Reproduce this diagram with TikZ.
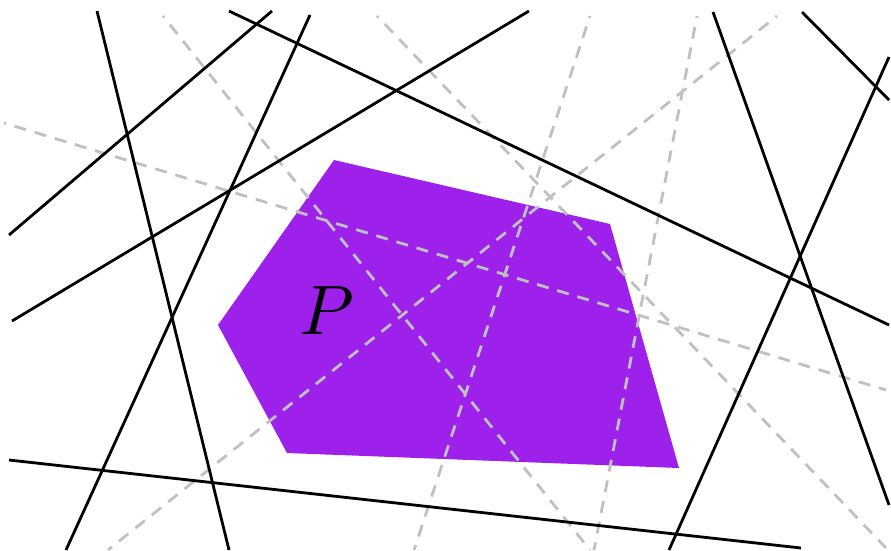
\documentclass[tikz,border=0pt]{standalone}
\usepackage{graphicx}
\begin{document}
\begin{tikzpicture}[x=1pt,y=-1pt,
  solidline/.style={black,line width=2.8pt},
  guide/.style={color={rgb,255:red,192;green,192;blue,192},line width=2.8pt,dash pattern=on 12pt off 9pt,dash phase=10pt},
  region/.style={fill={rgb,255:red,157;green,32;blue,235}}]
\useasboundingbox (0,0) rectangle (891,550);
% polygon
\fill[region] (334,160) -- (610,224) -- (679,468) -- (287,453) -- (218,325) -- cycle;
\node (P) at (327,311) {\scalebox{7}{$P$}};
% dashed guides
\draw[guide] (163,16) -- (590,550);
\draw[guide] (4,123) -- (886,390);
\draw[guide] (777,16) -- (108,550);
\draw[guide] (697,16) -- (594,550);
\draw[guide] (590,16) -- (414,550);
\draw[guide] (377,16) -- (886,548);
% solid lines
\draw[solidline] (97,11) -- (229,550);
\draw[solidline] (272,11) -- (9,235);
\draw[solidline] (310,15) -- (66,550);
\draw[solidline] (229,11) -- (889,325);
\draw[solidline] (529,11) -- (12,321);
\draw[solidline] (713,12) -- (889,505);
\draw[solidline] (802,12) -- (889,100);
\draw[solidline] (889,57) -- (669,550);
\draw[solidline] (9,460) -- (801,548);
\end{tikzpicture}
\end{document}
